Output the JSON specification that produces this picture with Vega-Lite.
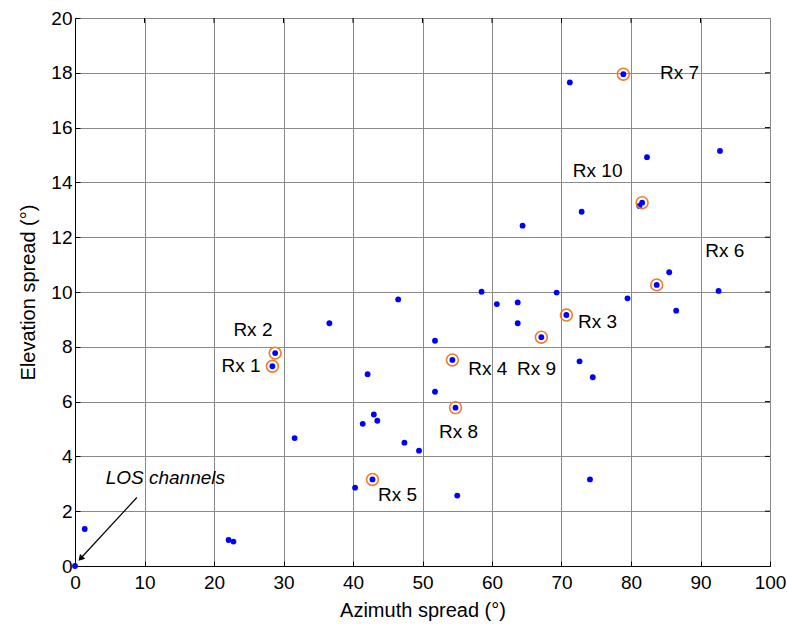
{
  "$schema": "https://vega.github.io/schema/vega-lite/v6.json",
  "autosize": "none",
  "width": 695,
  "height": 548,
  "padding": {"left": 75, "top": 18, "right": 17, "bottom": 58},
  "background": "white",
  "config": {
    "view": {"stroke": "black", "strokeWidth": 1},
    "font": "Liberation Sans",
    "axis": {
      "labelFont": "Liberation Sans",
      "titleFont": "Liberation Sans",
      "labelFontSize": 19,
      "titleFontSize": 20,
      "titleFontWeight": "normal",
      "labelColor": "black",
      "titleColor": "black",
      "domainColor": "black",
      "tickColor": "black",
      "tickSize": -5,
      "gridColor": "#8a8a8a",
      "gridOpacity": 1,
      "gridWidth": 1
    }
  },
  "datasets": {
    "pts": [
      {"az": 0, "el": 0}, {"az": 1.4, "el": 1.35}, {"az": 22.1, "el": 0.95}, {"az": 22.8, "el": 0.89},
      {"az": 31.6, "el": 4.67}, {"az": 36.6, "el": 8.86}, {"az": 40.3, "el": 2.86}, {"az": 41.4, "el": 5.19},
      {"az": 42.1, "el": 7.0}, {"az": 43.0, "el": 5.53}, {"az": 43.5, "el": 5.30}, {"az": 46.5, "el": 9.73},
      {"az": 47.4, "el": 4.50}, {"az": 49.5, "el": 4.21}, {"az": 51.8, "el": 6.36}, {"az": 51.8, "el": 8.22},
      {"az": 55.0, "el": 2.57}, {"az": 58.5, "el": 10.01}, {"az": 60.7, "el": 9.56}, {"az": 63.7, "el": 9.62},
      {"az": 63.7, "el": 8.86}, {"az": 64.4, "el": 12.42}, {"az": 69.3, "el": 9.98}, {"az": 71.2, "el": 17.65},
      {"az": 72.6, "el": 7.47}, {"az": 72.9, "el": 12.93}, {"az": 74.1, "el": 3.16}, {"az": 74.5, "el": 6.89},
      {"az": 79.5, "el": 9.77}, {"az": 81.2, "el": 13.14}, {"az": 82.3, "el": 14.92}, {"az": 85.5, "el": 10.72},
      {"az": 86.5, "el": 9.32}, {"az": 92.6, "el": 10.04}, {"az": 92.8, "el": 15.15}
    ],
    "rx": [
      {"name": "Rx 1", "az": 28.4, "el": 7.29, "lx": 23.9, "ly": 7.3},
      {"name": "Rx 2", "az": 28.8, "el": 7.77, "lx": 25.6, "ly": 8.6},
      {"name": "Rx 3", "az": 70.7, "el": 9.16, "lx": 75.2, "ly": 8.9},
      {"name": "Rx 4", "az": 54.3, "el": 7.52, "lx": 59.4, "ly": 7.2},
      {"name": "Rx 5", "az": 42.8, "el": 3.16, "lx": 46.4, "ly": 2.6},
      {"name": "Rx 6", "az": 83.7, "el": 10.26, "lx": 93.5, "ly": 11.5},
      {"name": "Rx 7", "az": 78.9, "el": 17.95, "lx": 87.0, "ly": 18.0},
      {"name": "Rx 8", "az": 54.75, "el": 5.78, "lx": 55.2, "ly": 4.9},
      {"name": "Rx 9", "az": 67.1, "el": 8.35, "lx": 66.4, "ly": 7.2},
      {"name": "Rx 10", "az": 81.6, "el": 13.26, "lx": 75.2, "ly": 14.4}
    ],
    "xticks": [
      {"v": 10, "top": 20, "end": 19.82}, {"v": 20, "top": 20, "end": 19.82}, {"v": 30, "top": 20, "end": 19.82},
      {"v": 40, "top": 20, "end": 19.82}, {"v": 50, "top": 20, "end": 19.82}, {"v": 60, "top": 20, "end": 19.82},
      {"v": 70, "top": 20, "end": 19.82}, {"v": 80, "top": 20, "end": 19.82}, {"v": 90, "top": 20, "end": 19.82}
    ],
    "yticks": [
      {"v": 2, "right": 100, "end": 99.28}, {"v": 4, "right": 100, "end": 99.28}, {"v": 6, "right": 100, "end": 99.28},
      {"v": 8, "right": 100, "end": 99.28}, {"v": 10, "right": 100, "end": 99.28}, {"v": 12, "right": 100, "end": 99.28},
      {"v": 14, "right": 100, "end": 99.28}, {"v": 16, "right": 100, "end": 99.28}, {"v": 18, "right": 100, "end": 99.28}
    ],
    "arrow": [{"x1": 8.9, "y1": 2.5, "x2": 0.9, "y2": 0.3, "tx": 13.0, "ty": 3.2, "t": "LOS channels"}]
  },
  "layer": [
    {
      "data": {"name": "pts"},
      "mark": {"type": "point", "filled": true, "color": "#0000ff", "size": 34, "opacity": 1, "clip": false},
      "encoding": {
        "x": {"field": "az", "type": "quantitative", "scale": {"domain": [0, 100], "nice": false, "zero": false},
          "axis": {"title": "Azimuth spread (°)", "values": [0,10,20,30,40,50,60,70,80,90,100], "grid": true, "labelPadding": 12, "titlePadding": 8, "labelFlush": false}},
        "y": {"field": "el", "type": "quantitative", "scale": {"domain": [0, 20], "nice": false, "zero": false},
          "axis": {"title": "Elevation spread (°)", "values": [0,2,4,6,8,10,12,14,16,18,20], "grid": true, "labelPadding": 8, "titlePadding": 12, "labelFlush": false}}
      }
    },
    {
      "data": {"name": "xticks"},
      "mark": {"type": "rule", "color": "black", "strokeWidth": 1},
      "encoding": {
        "x": {"field": "v", "type": "quantitative"},
        "y": {"field": "top", "type": "quantitative"},
        "y2": {"field": "end"}
      }
    },
    {
      "data": {"name": "yticks"},
      "mark": {"type": "rule", "color": "black", "strokeWidth": 1},
      "encoding": {
        "y": {"field": "v", "type": "quantitative"},
        "x": {"field": "right", "type": "quantitative"},
        "x2": {"field": "end"}
      }
    },
    {
      "data": {"name": "rx"},
      "mark": {"type": "point", "filled": false, "color": "#f07b28", "strokeWidth": 1.6, "size": 140, "opacity": 1},
      "encoding": {
        "x": {"field": "az", "type": "quantitative"},
        "y": {"field": "el", "type": "quantitative"}
      }
    },
    {
      "data": {"name": "rx"},
      "mark": {"type": "point", "filled": true, "color": "#0000ff", "size": 34, "opacity": 1},
      "encoding": {
        "x": {"field": "az", "type": "quantitative"},
        "y": {"field": "el", "type": "quantitative"}
      }
    },
    {
      "data": {"name": "rx"},
      "mark": {"type": "text", "font": "Liberation Sans", "fontSize": 19, "color": "black", "align": "center", "baseline": "middle"},
      "encoding": {
        "x": {"field": "lx", "type": "quantitative"},
        "y": {"field": "ly", "type": "quantitative"},
        "text": {"field": "name"}
      }
    },
    {
      "data": {"name": "arrow"},
      "mark": {"type": "rule", "color": "black", "strokeWidth": 1.2},
      "encoding": {
        "x": {"field": "x1", "type": "quantitative"},
        "y": {"field": "y1", "type": "quantitative"},
        "x2": {"field": "x2"},
        "y2": {"field": "y2"}
      }
    },
    {
      "data": {"name": "arrow"},
      "mark": {"type": "point", "shape": "triangle", "filled": true, "color": "black", "size": 50, "angle": 222, "opacity": 1},
      "encoding": {
        "x": {"field": "x2", "type": "quantitative"},
        "y": {"field": "y2", "type": "quantitative"}
      }
    },
    {
      "data": {"name": "arrow"},
      "mark": {"type": "text", "font": "Liberation Sans", "fontSize": 19, "fontStyle": "italic", "color": "black", "align": "center", "baseline": "middle"},
      "encoding": {
        "x": {"field": "tx", "type": "quantitative"},
        "y": {"field": "ty", "type": "quantitative"},
        "text": {"field": "t"}
      }
    }
  ]
}
